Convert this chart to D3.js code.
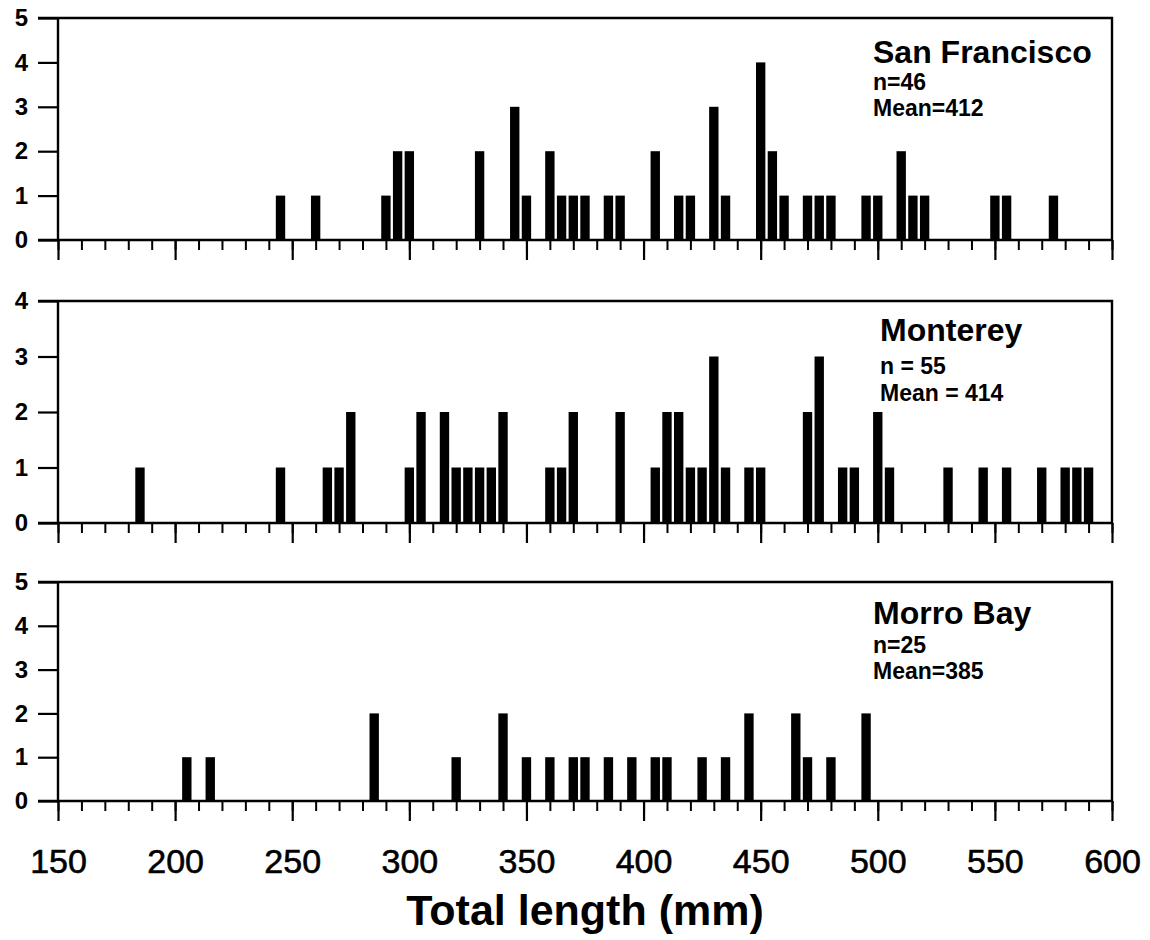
<!DOCTYPE html>
<html>
<head>
<meta charset="utf-8">
<script src="https://cdn.jsdelivr.net/npm/d3@7"></script>
<style>
  body { margin: 0; background: #fff; }
  svg text { font-family: "Liberation Sans", Arial, sans-serif; fill: #000; }
</style>
</head>
<body>
<div id="chart"></div>
<script>
// Data: length bins (mm, bin centres) and fish counts per site
const sfLengths = [245, 260, 290, 295, 300, 330, 345, 350, 360, 365, 370, 375, 385, 390, 405, 415, 420, 430, 435, 450, 455, 460, 470, 475, 480, 495, 500, 510, 515, 520, 550, 555, 575];
const sfCounts  = [1, 1, 1, 2, 2, 2, 3, 1, 2, 1, 1, 1, 1, 1, 2, 1, 1, 3, 1, 4, 2, 1, 1, 1, 1, 1, 1, 2, 1, 1, 1, 1, 1];

const moLengths = [185, 245, 265, 270, 275, 300, 305, 315, 320, 325, 330, 335, 340, 360, 365, 370, 390, 405, 410, 415, 420, 425, 430, 435, 445, 450, 470, 475, 485, 490, 500, 505, 530, 545, 555, 570, 580, 585, 590];
const moCounts  = [1, 1, 1, 1, 2, 1, 2, 2, 1, 1, 1, 1, 2, 1, 1, 2, 2, 1, 2, 2, 1, 1, 3, 1, 1, 1, 2, 3, 1, 1, 2, 1, 1, 1, 1, 1, 1, 1, 1];

const mbLengths = [205, 215, 285, 320, 340, 350, 360, 370, 375, 385, 395, 405, 410, 425, 435, 445, 465, 470, 480, 495];
const mbCounts  = [1, 1, 2, 1, 2, 1, 1, 1, 1, 1, 1, 1, 1, 1, 1, 2, 2, 1, 1, 2];

const siteNames = ["San Francisco", "Monterey", "Morro Bay"];
const siteN = ["n=46", "n = 55", "n=25"];
const siteMean = ["Mean=412", "Mean = 414", "Mean=385"];
const yMaxes = [5, 4, 5];

const xTickLabels = [150, 200, 250, 300, 350, 400, 450, 500, 550, 600];
const xTitle = "Total length (mm)";

// Layout
const width = 1150;
const height = 940;
const left = 58;
const right = 1112;
const panels = [
  { top: 18, bottom: 240, lengths: sfLengths, counts: sfCounts, labelX: 873, dy: [45, 72, 98] },
  { top: 301, bottom: 523, lengths: moLengths, counts: moCounts, labelX: 880, dy: [40, 73, 100] },
  { top: 582, bottom: 801, lengths: mbLengths, counts: mbCounts, labelX: 873, dy: [42, 71, 97] },
];
const binWidth = 4; // mm drawn per bar

const svg = d3
  .select("#chart")
  .append("svg")
  .attr("width", width)
  .attr("height", height);

const xScale = d3.scaleLinear().domain([150, 600]).range([left, right]);

panels.forEach((p, i) => {
  const yScale = d3.scaleLinear().domain([0, yMaxes[i]]).range([p.bottom, p.top]);
  const g = svg.append("g");

  const data = p.lengths.map((len, j) => ({ len, count: p.counts[j] }));

  // Bars
  g.selectAll(".bar")
    .data(data)
    .enter()
    .append("rect")
    .attr("x", (d) => xScale(d.len - binWidth / 2))
    .attr("width", (d) => xScale(d.len + binWidth / 2) - xScale(d.len - binWidth / 2))
    .attr("y", (d) => yScale(d.count))
    .attr("height", (d) => yScale(0) - yScale(d.count))
    .style("fill", "#000");

  // Y axis
  const yAxis = g
    .append("g")
    .attr("transform", `translate(${left},0)`)
    .call(d3.axisLeft(yScale).tickValues(d3.range(0, yMaxes[i] + 1)).tickSize(20).tickPadding(10).tickFormat(d3.format("d")));
  yAxis.select(".domain").remove();
  yAxis.selectAll("line").attr("stroke-width", 2.2);
  yAxis.selectAll("text")
    .style("font-size", "24px")
    .style("font-weight", "bold")
    .attr("fill", "#000");

  // Minor x ticks
  const minor = g
    .append("g")
    .attr("transform", `translate(0,${p.bottom})`)
    .call(d3.axisBottom(xScale).tickValues(d3.range(150, 601, 10)).tickSize(10).tickFormat(""));
  minor.select(".domain").remove();
  minor.selectAll("line").attr("stroke-width", 2);

  // Major x ticks
  const major = g
    .append("g")
    .attr("transform", `translate(0,${p.bottom})`)
    .call(d3.axisBottom(xScale).tickValues(xTickLabels).tickSize(20).tickFormat(i === 2 ? d3.format("d") : ""));
  major.select(".domain").remove();
  major.selectAll("line").attr("stroke-width", 2.2);
  major.selectAll("text")
    .attr("y", 48)
    .attr("dy", "0.71em")
    .style("font-size", "34px")
    .attr("fill", "#000")
    .attr("stroke", "#000")
    .attr("stroke-width", 0.6);

  // Frame
  g.append("path")
    .attr("d", `M${left - 20},${p.top}H${right}V${p.bottom}H${left - 20}M${left},${p.top}V${p.bottom}`)
    .attr("fill", "none")
    .attr("stroke", "#000")
    .attr("stroke-width", 2.4);

  // Site label
  g.append("text")
    .attr("x", p.labelX)
    .attr("y", p.top + p.dy[0])
    .style("font-size", "32px")
    .style("font-weight", "bold")
    .text(siteNames[i]);
  g.append("text")
    .attr("x", p.labelX)
    .attr("y", p.top + p.dy[1])
    .style("font-size", "23px")
    .style("font-weight", "bold")
    .text(siteN[i]);
  g.append("text")
    .attr("x", p.labelX)
    .attr("y", p.top + p.dy[2])
    .style("font-size", "23px")
    .style("font-weight", "bold")
    .text(siteMean[i]);
});

// Axis title
svg
  .append("text")
  .attr("x", (left + right) / 2)
  .attr("y", 925)
  .attr("text-anchor", "middle")
  .style("font-size", "43px")
  .style("font-weight", "bold")
  .text(xTitle);
</script>
</body>
</html>
